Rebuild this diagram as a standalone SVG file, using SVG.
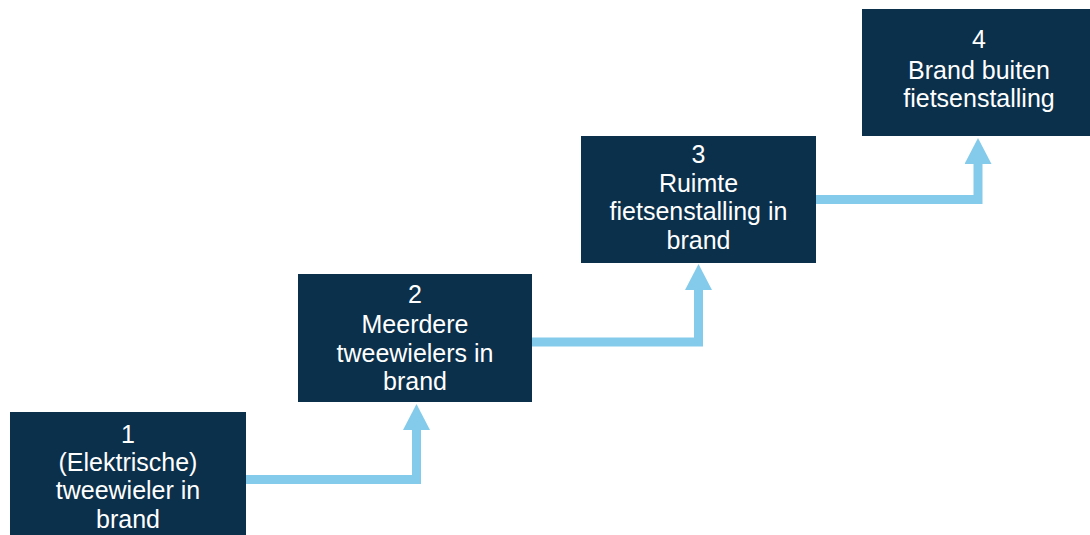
<svg xmlns="http://www.w3.org/2000/svg" width="1090" height="535" viewBox="0 0 1090 535">
  <style>
    .box { fill: #0B304B; }
    .lbl { fill: #FFFFFF; font-family: "Liberation Sans", Arial, sans-serif; font-size: 25px; text-anchor: middle; }
    .flow { fill: none; stroke: #84CBEB; stroke-width: 9; stroke-linejoin: miter; }
  </style>
  <defs>
    <marker id="head" viewBox="0 0 26 27" refX="1" refY="13.5" markerWidth="26" markerHeight="27" markerUnits="userSpaceOnUse" orient="auto">
      <path d="M0,0 L26,13.5 L0,27 Z" fill="#84CBEB"/>
    </marker>
  </defs>
  <rect width="1090" height="535" fill="#FFFFFF"/>

  <!-- step connectors -->
  <g id="connectors">
    <polyline class="flow" points="246,479.5 416.5,479.5 416.5,429" marker-end="url(#head)"/>
    <polyline class="flow" points="532,342 698.5,342 698.5,289" marker-end="url(#head)"/>
    <polyline class="flow" points="816,199.5 978,199.5 978,163" marker-end="url(#head)"/>
  </g>

  <g id="step1">
    <rect class="box" x="10" y="412" width="236" height="130"/>
    <text class="lbl" x="128" y="443">1</text>
    <text class="lbl" x="128" y="471">(Elektrische)</text>
    <text class="lbl" x="128" y="499">tweewieler in</text>
    <text class="lbl" x="128" y="528">brand</text>
  </g>

  <g id="step2">
    <rect class="box" x="298" y="274" width="234" height="128"/>
    <text class="lbl" x="415" y="303">2</text>
    <text class="lbl" x="415" y="333">Meerdere</text>
    <text class="lbl" x="415" y="362">tweewielers in</text>
    <text class="lbl" x="415" y="390">brand</text>
  </g>

  <g id="step3">
    <rect class="box" x="581" y="136" width="235" height="127"/>
    <text class="lbl" x="698.5" y="163">3</text>
    <text class="lbl" x="698.5" y="192">Ruimte</text>
    <text class="lbl" x="698.5" y="220">fietsenstalling in</text>
    <text class="lbl" x="698.5" y="249">brand</text>
  </g>

  <g id="step4">
    <rect class="box" x="862" y="9" width="235" height="127"/>
    <text class="lbl" x="979" y="48">4</text>
    <text class="lbl" x="979" y="79">Brand buiten</text>
    <text class="lbl" x="979" y="107">fietsenstalling</text>
  </g>
</svg>
